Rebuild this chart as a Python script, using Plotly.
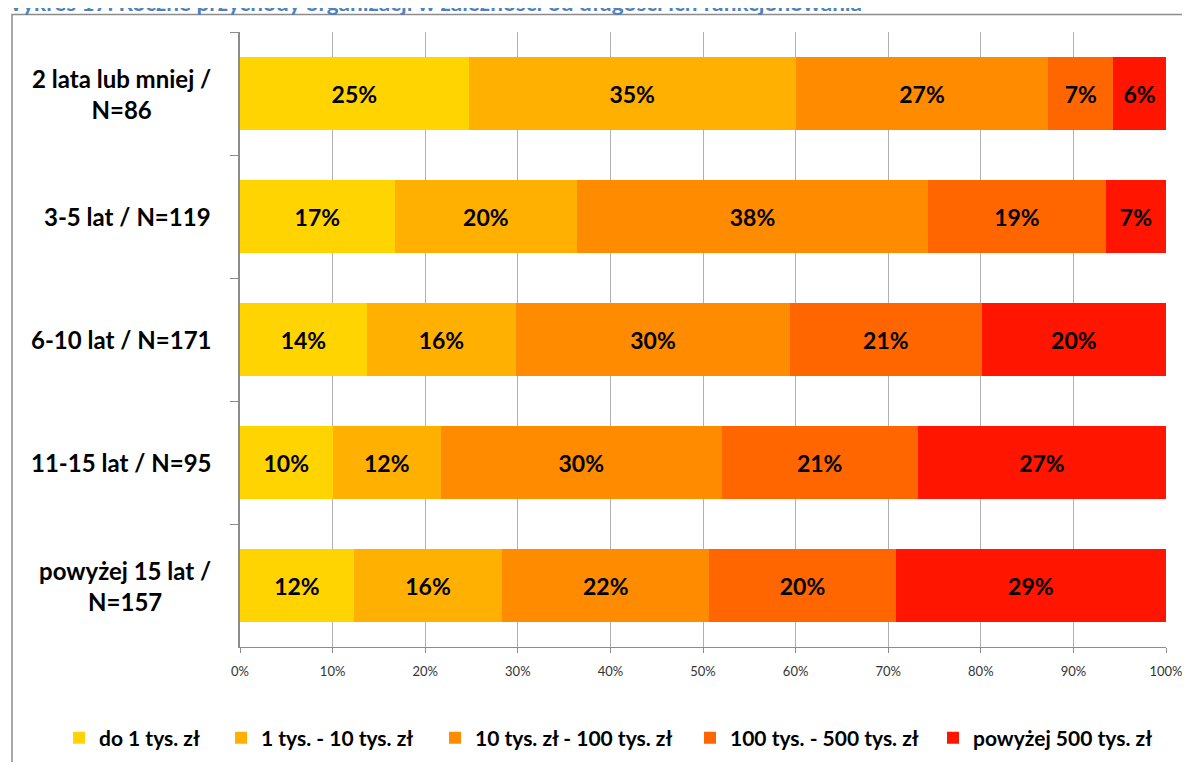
import plotly.graph_objects as go

categories = ["2 lata lub mniej /<br>N=86", "3-5 lat / N=119", "6-10 lat / N=171",
              "11-15 lat / N=95", "powyżej 15 lat /<br>N=157"]
series_names = ["do 1 tys. zł", "1 tys. - 10 tys. zł", "10 tys. zł - 100 tys. zł",
                "100 tys. - 500 tys. zł", "powyżej 500 tys. zł"]
do_1 = [24.7, 16.7, 13.7, 10.0, 12.3]
od_1_do_10 = [35.3, 19.7, 16.1, 11.7, 16.0]
od_10_do_100 = [27.3, 37.9, 29.6, 30.3, 22.4]
od_100_do_500 = [7.0, 19.2, 20.7, 21.2, 20.1]
powyzej_500 = [5.7, 6.5, 19.9, 26.8, 29.2]
x_ticks = [0, 10, 20, 30, 40, 50, 60, 70, 80, 90, 100]
title_text = "Wykres 17. Roczne przychody organizacji w zależności od długości ich funkcjonowania"

series_values = [do_1, od_1_do_10, od_10_do_100, od_100_do_500, powyzej_500]
colors = ["#FFD400", "#FFB000", "#FF8C00", "#FF6600", "#FF1500"]
legend_left_px = [76, 238, 452, 707, 950]

FONT = "Lato"
OFF = 8  # browser body margin
W, H = 1190 - 2 * OFF, 770 - 2 * OFF
ML, MT = 240 - OFF, 32 - OFF
MR = W - (1166 - OFF)
MB = H - (647 - OFF)
PW, PH = W - ML - MR, H - MT - MB


def px_x(p):
    return (p - OFF - ML) / PW


def px_y(p):
    return (H - MB - (p - OFF)) / PH


fig = go.Figure()
for i, (name, vals, col) in enumerate(zip(series_names, series_values, colors)):
    fig.add_trace(go.Bar(
        y=categories, x=vals, name=name, orientation="h",
        marker=dict(color=col, line=dict(width=0)),
        texttemplate="%{x:.0f}%", textposition="inside", insidetextanchor="middle",
        textfont=dict(family=FONT, size=23, color="black", weight="bold"),
        constraintext="none", hoverinfo="skip",
        legend="legend" if i == 0 else f"legend{i + 1}",
    ))

for cat in categories:
    fig.add_annotation(
        x=px_x(213), xref="paper", y=cat, yref="y", text=cat,
        xanchor="right", yanchor="middle", align="center", showarrow=False,
        font=dict(family=FONT, size=24, color="black", weight="bold"),
    )

fig.add_annotation(
    x=px_x(-3), xref="paper", y=px_y(2.5), yref="paper", text=title_text,
    xanchor="left", yanchor="middle", showarrow=False,
    font=dict(family=FONT, size=22.5, color="#4F81BD", weight="bold"),
)

fig.add_shape(type="rect", xref="paper", yref="paper",
              x0=px_x(12), x1=px_x(1200), y0=px_y(790), y1=px_y(14.5),
              line=dict(color="#8c8c8c", width=1.5), layer="below")

legend_common = dict(orientation="h", xanchor="left", yanchor="middle",
                     font=dict(family=FONT, size=21, color="black", weight="bold"),
                     itemwidth=30, bgcolor="rgba(0,0,0,0)")
layout_legends = {}
for i, lx in enumerate(legend_left_px):
    key = "legend" if i == 0 else f"legend{i + 1}"
    layout_legends[key] = dict(legend_common, x=px_x(lx - 17), y=px_y(738))

fig.update_layout(
    width=W, height=H, margin=dict(l=ML, r=MR, t=MT, b=MB, autoexpand=False),
    barmode="stack", bargap=0.4,
    plot_bgcolor="white", paper_bgcolor="white",
    font=dict(family=FONT),
    showlegend=True,
    xaxis=dict(range=[0, 100], tickvals=x_ticks, ticktext=[f"{v}%" for v in x_ticks],
               showgrid=True, gridcolor="#b0b0b0", gridwidth=1,
               showline=True, linecolor="#8c8c8c", linewidth=1,
               ticks="outside", ticklen=5, tickcolor="#8c8c8c",
               ticklabeloverflow="allow", ticklabelstandoff=7, automargin=False,
               tickfont=dict(family=FONT, size=13, color="#333333"), zeroline=False, fixedrange=True),
    yaxis=dict(autorange="reversed", showticklabels=False, tickson="boundaries",
               ticks="outside", ticklen=8, tickcolor="#8c8c8c", automargin=False,
               showline=True, linecolor="#8c8c8c", linewidth=1.5, showgrid=False, fixedrange=True),
    **layout_legends,
)

fig.write_html("out.html")
